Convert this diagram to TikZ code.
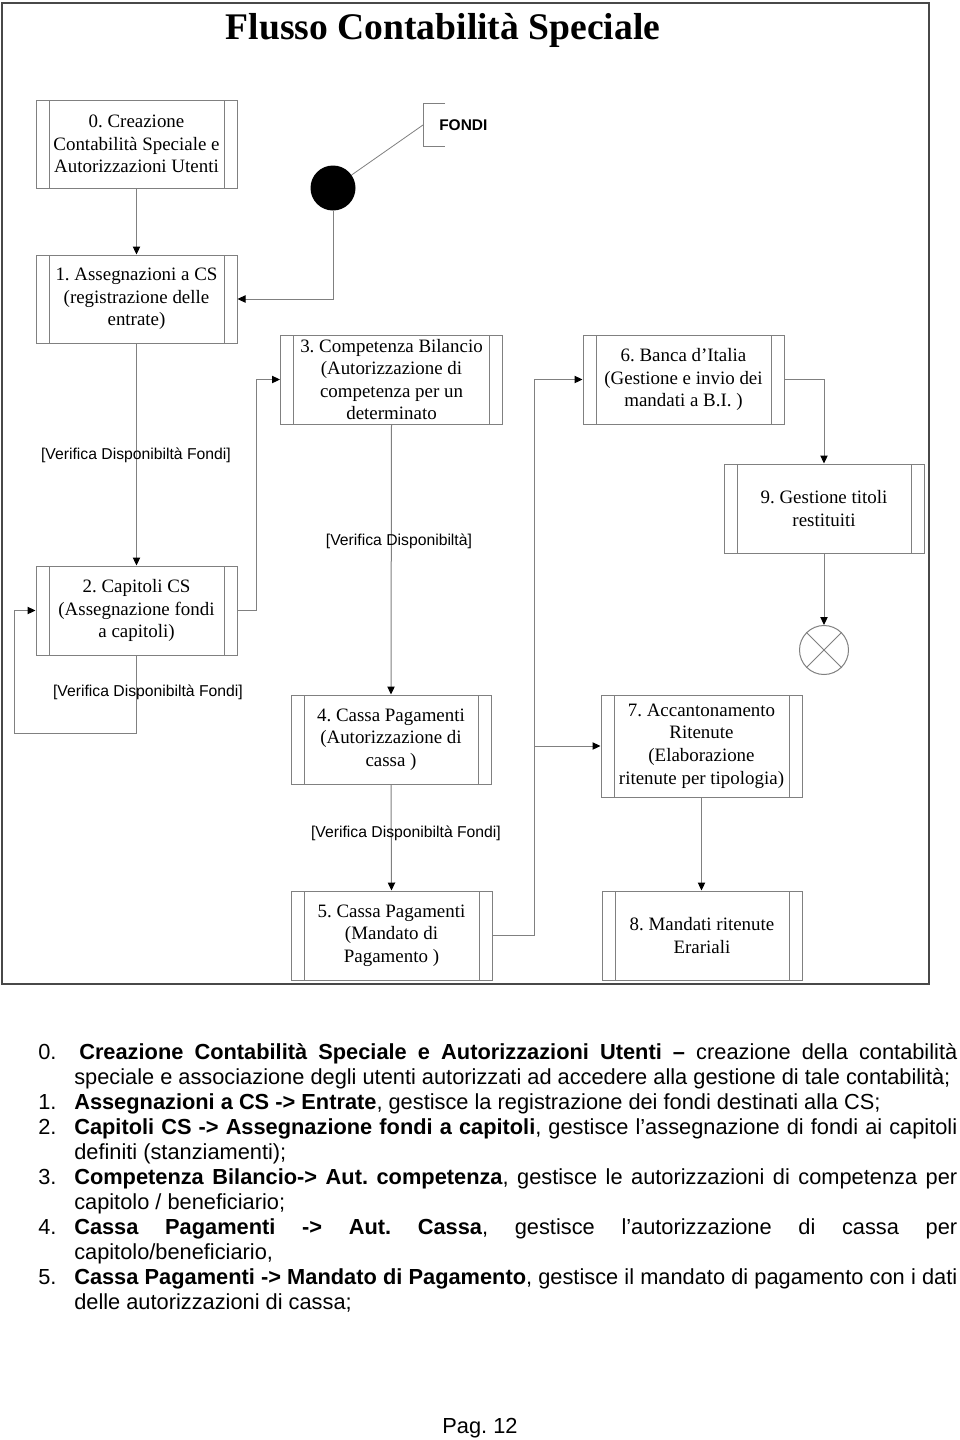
\documentclass[tikz,border=0pt]{standalone}
\usepackage{fontspec}
\setmainfont{Liberation Serif}
\newfontfamily\arial{Liberation Sans}
\usetikzlibrary{arrows.meta,calc}
\definecolor{lg}{RGB}{128,128,128}
\definecolor{fr}{RGB}{72,72,72}
\frenchspacing
\begin{document}
\begin{tikzpicture}[x=0.75pt,y=-0.75pt,
  proc/.style={draw=lg, line width=0.75pt, fill=white, inner sep=0pt, align=center,
    font=\fontsize{14.2pt}{16.9pt}\selectfont,
    path picture={\draw[lg, line width=0.75pt]
      ([xshift=9.75pt]path picture bounding box.north west) -- ([xshift=9.75pt]path picture bounding box.south west)
      ([xshift=-9.75pt]path picture bounding box.north east) -- ([xshift=-9.75pt]path picture bounding box.south east);}},
  sz/.style 2 args={minimum width=#1*0.75pt, minimum height=#2*0.75pt},
  conn/.style={draw=lg, line width=0.75pt},
  arr/.style={conn, -{Triangle[length=6pt,width=5.5pt,color=black]}},
  lbl/.style={font=\arial\fontsize{11.8pt}{14pt}\selectfont, inner sep=0pt},
  lst/.style={font=\arial\fontsize{16.35pt}{18.75pt}\selectfont, inner sep=0pt, anchor=base west}]
\useasboundingbox (0,0) rectangle (960,1440);
\fill[white] (0,0) rectangle (960,1440);
% frame
\draw[fr, line width=1.6pt] (2,3) rectangle (929,984);
\node[font=\bfseries\fontsize{28.2pt}{32pt}\selectfont, inner sep=0pt, anchor=base] (title) at (443,39.5) {Flusso Contabilità Speciale};

% boxes
\node[proc, sz={201}{88}] (b0) at (136.5,144) {0. Creazione\\Contabilità Speciale e\\Autorizzazioni Utenti};
\node[proc, sz={201}{88}] (b1) at (136.5,299) {1. Assegnazioni a CS\\(registrazione delle\\entrate)};
\node[proc, sz={201}{89}] (b2) at (136.5,610.5) {2. Capitoli CS\\(Assegnazione fondi\\a capitoli)};
\node[proc, sz={222}{89}] (b3) at (391.5,379.5) {3. Competenza Bilancio\\(Autorizzazione di\\competenza per un\\determinato};
\node[proc, sz={200}{89}] (b4) at (391,739.5) {4. Cassa Pagamenti\\(Autorizzazione di\\cassa )};
\node[proc, sz={201}{89}] (b5) at (391.5,935.5) {5. Cassa Pagamenti\\(Mandato di\\Pagamento )};
\node[proc, sz={201}{89}] (b6) at (683.5,379.5) {6. Banca d’Italia\\(Gestione e invio dei\\mandati a B.I. )};
\node[proc, sz={201}{102}] (b7) at (701.5,746) {7. Accantonamento\\Ritenute\\(Elaborazione\\ritenute per tipologia)};
\node[proc, sz={200}{89}] (b8) at (702,935.5) {8. Mandati ritenute\\Erariali};
\node[proc, sz={200}{89}] (b9) at (824,508.5) {9. Gestione titoli\\restituiti};

% start / end
\node[circle, fill=black, minimum size=45*0.75pt, inner sep=0pt] (start) at (333,188) {};
\node[circle, draw=lg, line width=0.75pt, fill=white, minimum size=49*0.75pt, inner sep=0pt] (end) at (824,650) {};
\draw[lg, line width=0.75pt] (end.north west) -- (end.south east) (end.north east) -- (end.south west);

% FONDI annotation
\node[font=\arial\bfseries\fontsize{11.6pt}{14pt}\selectfont, inner sep=0pt, anchor=west] (fondi) at (439,125) {FONDI};
\coordinate (fb) at (423,125);
\draw[lg, line width=0.6pt] (445,103) -- (423,103) -- (423,146) -- (445,146);
\draw[lg, line width=0.6pt] (start) -- (fb);

% connectors
\draw[arr] (b0.south) -- (b1.north);
\draw[arr] (start.south) |- (b1.east);
\draw[arr] (b1.south) -- (b2.north);
\node[lbl] (l1) at (136,455) {[Verifica Disponibiltà Fondi]};

\coordinate (c23) at (256,0);
\draw[arr] (b2.east) -- (b2.east -| c23) -- (b3.west -| c23) -- (b3.west);

\coordinate (loop) at (14,733);
\draw[arr] (b2.south) |- (loop) |- (b2.west);
\node[lbl] (l2) at (148,692) {[Verifica Disponibiltà Fondi]};

\draw[arr] (b3.south) -- (b4.north);
\node[lbl] (l3) at (399,541) {[Verifica Disponibiltà]};

\draw[arr] (b4.south) -- (b5.north);
\node[lbl] (l4) at (406,833) {[Verifica Disponibiltà Fondi]};

\coordinate (c56) at (534,0);
\draw[arr] (b5.east) -- (b5.east -| c56) -- (b6.west -| c56) -- (b6.west);
\draw[arr] (b7.west -| c56) -- (b7.west);

\draw[arr] (b6.east) -| (b9.north);
\draw[arr] (b9.south) -- (end.north);
\draw[arr] (b7.south) -- (b7.south |- b8.north);

% description list
\node[lst] (n0) at (38,1059) {0.};
\node[lst] (t0a) at (79,1059) {\makebox[658.5pt][s]{\textbf{Creazione Contabilità Speciale e Autorizzazioni Utenti –} creazione della contabilità}};
\node[lst] (t0b) at (74,1084) {speciale e associazione degli utenti autorizzati ad accedere alla gestione di tale contabilità;};
\node[lst] (n1) at (38,1109) {1.};
\node[lst] (t1) at (74,1109) {\textbf{Assegnazioni a CS -> Entrate}, gestisce la registrazione dei fondi destinati alla CS;};
\node[lst] (n2) at (38,1134) {2.};
\node[lst] (t2a) at (74,1134) {\makebox[662.25pt][s]{\textbf{Capitoli CS -> Assegnazione fondi a capitoli}, gestisce l’assegnazione di fondi ai capitoli}};
\node[lst] (t2b) at (74,1159) {definiti (stanziamenti);};
\node[lst] (n3) at (38,1184) {3.};
\node[lst] (t3a) at (74,1184) {\makebox[662.25pt][s]{\textbf{Competenza Bilancio-> Aut. competenza}, gestisce le autorizzazioni di competenza per}};
\node[lst] (t3b) at (74,1209) {capitolo / beneficiario;};
\node[lst] (n4) at (38,1234) {4.};
\node[lst] (t4a) at (74,1234) {\makebox[662.25pt][s]{\textbf{Cassa Pagamenti -> Aut. Cassa}, gestisce l’autorizzazione di cassa per}};
\node[lst] (t4b) at (74,1259) {capitolo/beneficiario,};
\node[lst] (n5) at (38,1284) {5.};
\node[lst] (t5a) at (74,1284) {\makebox[662.25pt][s]{\textbf{Cassa Pagamenti -> Mandato di Pagamento}, gestisce il mandato di pagamento con i dati}};
\node[lst] (t5b) at (74,1309) {delle autorizzazioni di cassa;};

\node[lst, anchor=base] (pag) at (480,1433) {Pag. 12};
\end{tikzpicture}
\end{document}
